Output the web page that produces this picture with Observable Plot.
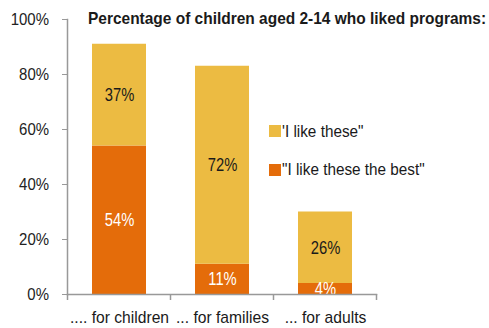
<!DOCTYPE html>
<html><head><meta charset="utf-8">
<script src="https://cdn.jsdelivr.net/npm/d3@7"></script>
<script src="https://cdn.jsdelivr.net/npm/@observablehq/plot@0.6"></script>
<style>
body{margin:0;background:#fff;}
#wrap{position:relative;width:489px;height:328px;font-family:"Liberation Sans",Arial,sans-serif;overflow:hidden;}
#title{position:absolute;left:88px;top:10px;font-size:17px;line-height:1;font-weight:bold;color:#1a1a1a;white-space:nowrap;transform:scaleX(0.91);transform-origin:left center;}
.leg{position:absolute;left:269px;font-size:17px;line-height:1;color:#1a1a1a;white-space:nowrap;display:flex;align-items:center;}
.sw{display:inline-block;width:12px;height:12px;margin-right:1px;flex:none;}
.lt{display:inline-block;transform:scaleX(0.9);transform-origin:left center;}
</style></head>
<body><div id="wrap"></div>
<script>
const categories = [".... for children", "... for families", "... for adults"];
const likeBest = [54, 11, 4];
const likeThese = [37, 72, 26];
const seriesNames = ["\"I like these the best\"", "'I like these\""];
const seriesColors = ["#E46C0A", "#ECBB42"];
const yTicks = [0, 20, 40, 60, 80, 100];
const titleText = "Percentage of children aged 2-14 who liked programs:";

const data = [];
categories.forEach((c, i) => {
  data.push({cat: c, series: seriesNames[0], value: likeBest[i]});
  data.push({cat: c, series: seriesNames[1], value: likeThese[i]});
});

const font = "\"Liberation Sans\",Arial,sans-serif";
const plot = Plot.plot({
  width: 489, height: 328,
  marginLeft: 67, marginRight: 113, marginTop: 19, marginBottom: 34,
  style: {fontFamily: font, fontSize: "17px", color: "#222", background: "#fff", overflow: "visible"},
  x: {domain: categories, paddingInner: 0.476, paddingOuter: 0.238, label: null},
  y: {domain: [0, 100], label: null},
  color: {domain: seriesNames, range: seriesColors},
  marks: [
    Plot.barY(data, Plot.stackY({x: "cat", y: "value", fill: "series", order: seriesNames})),
    Plot.text(data, Plot.stackY({x: "cat", y: "value", z: "series", order: seriesNames,
      text: d => d.value + "%", fill: d => d.series === seriesNames[0] ? "#fff" : "#1a1a1a",
      fontSize: 18, className: "barlab"})),
    Plot.axisY({ticks: yTicks, tickFormat: d => d + "%", tickSize: 5, tickPadding: 13.5,
      stroke: "#999", fill: "#222", fontSize: 17, label: null, className: "ylab"}),
    Plot.axisX({tickSize: 0, tickPadding: 16, fontSize: 17, fill: "#1a1a1a", label: null, className: "xlab"}),
    Plot.frame({anchor: "left", stroke: "#999", strokeWidth: 1.5}),
    Plot.frame({anchor: "bottom", stroke: "#999", strokeWidth: 1.5})
  ]
});

// separator ticks between categories, from the band scale
const xs = plot.scale("x"), ys = plot.scale("y");
const step = xs.step, bw = xs.bandwidth;
const y0 = ys.apply(0);
const svg = d3.select(plot);
const bounds = categories.map(c => xs.apply(c) - (step - bw) / 2);
bounds.push(xs.apply(categories[categories.length - 1]) + bw + (step - bw) / 2);
svg.append("g").selectAll("line").data(bounds).join("line")
  .attr("x1", d => d).attr("x2", d => d).attr("y1", y0).attr("y2", y0 + 6)
  .attr("stroke", "#999").attr("stroke-width", 1.5);

const wrap = document.getElementById("wrap");
wrap.appendChild(plot);
// narrow the text (condensed look)
function narrow(sel, k) {
  svg.selectAll(sel).each(function() {
    const tspans = this.querySelectorAll("tspan");
    const targets = tspans.length ? Array.from(tspans) : [this];
    targets.forEach(el => {
      const w = el.getComputedTextLength();
      if (w > 0) { el.setAttribute("textLength", w * k); el.setAttribute("lengthAdjust", "spacingAndGlyphs"); }
    });
  });
}
narrow(".barlab text", 0.82);
narrow(".ylab text", 0.88);
narrow(".xlab text", 0.92);

const t = document.createElement("div"); t.id = "title"; t.textContent = titleText; wrap.appendChild(t);
[[1, 122.5], [0, 161]].forEach(([i, top]) => {
  const d = document.createElement("div"); d.className = "leg"; d.style.top = top + "px";
  d.innerHTML = `<span class="sw" style="background:${seriesColors[i]}"></span>`;
  const s = document.createElement("span"); s.className = "lt"; s.textContent = seriesNames[i];
  d.appendChild(s);
  wrap.appendChild(d);
});
</script></body></html>
